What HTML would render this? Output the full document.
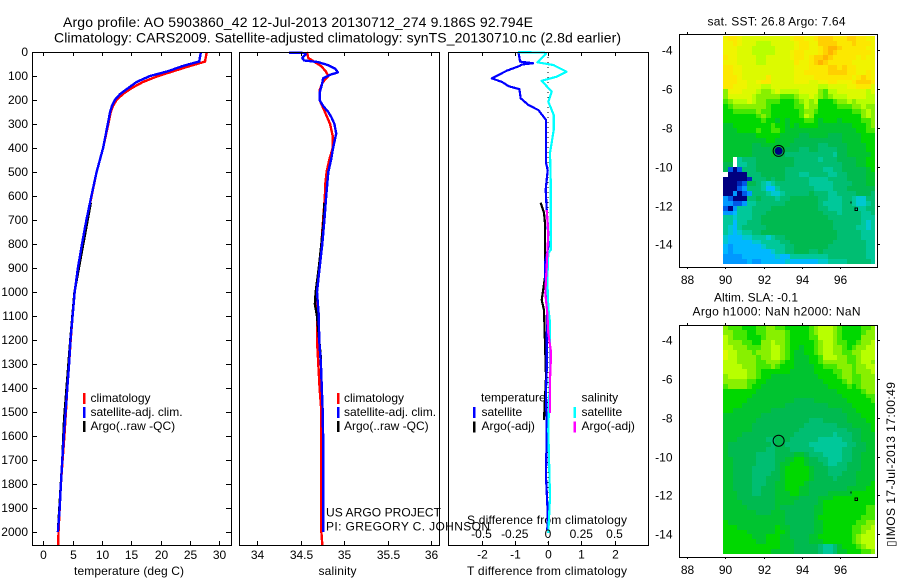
<!DOCTYPE html>
<html>
<head>
<meta charset="utf-8">
<title>Argo profile</title>
<style>
html,body{margin:0;padding:0;background:#fff;width:900px;height:580px;overflow:hidden}
svg{display:block}
text{font-family:"Liberation Sans",sans-serif;font-size:12px;fill:#000}
.ttl{font-size:14px}
</style>
</head>
<body>
<svg id="chart" xmlns="http://www.w3.org/2000/svg" width="900" height="580" viewBox="0 0 900 580">
<text class="ttl" x="63" y="27" textLength="470">Argo profile: AO 5903860_42 12-Jul-2013 20130712_274 9.186S 92.794E</text>
<text class="ttl" x="54" y="42.5" textLength="567">Climatology: CARS2009. Satellite-adjusted climatology: synTS_20130710.nc (2.8d earlier)</text>
<text x="74" y="575" textLength="110">temperature (deg C)</text>
<text x="318.5" y="575" textLength="38">salinity</text>
<text x="467" y="575" textLength="160">T difference from climatology</text>
<text x="467" y="524" textLength="160">S difference from climatology</text>
<text x="707.5" y="25.5" textLength="138">sat. SST: 26.8 Argo: 7.64</text>
<text x="714" y="301.5" textLength="84">Altim. SLA: -0.1</text>
<text x="692.5" y="315.5" textLength="168">Argo h1000: NaN h2000: NaN</text>
<text transform="rotate(-90 895 547)" x="895" y="547" textLength="165">▯IMOS 17-Jul-2013 17:00:49</text>
<g id="marks"></g>
<text x="326" y="516.5" textLength="115">US ARGO PROJECT</text>
<text x="326" y="530.5" textLength="164">PI: GREGORY C. JOHNSON</text>
</svg>
<script>
// ---------- data ----------
const depthTicks=[0,100,200,300,400,500,600,700,800,900,1000,1100,1200,1300,1400,1500,1600,1700,1800,1900,2000];
const tempTicks=[0,5,10,15,20,25,30];
const salTicks=[34,34.5,35,35.5,36];
const salTickLabels=['34','34.5','35','35.5','36'];
const tdiffTicks=[-2,-1,0,1,2];
const sdiffTicks=[-0.5,-0.25,0,0.25,0.5];
const sdiffTickLabels=['-0.5','-0.25','0','0.25','0.5'];
const lonTicks=[88,90,92,94,96];
const latTicks=[-4,-6,-8,-10,-12,-14];

const tempClimDepth=[0,40,50,60,80,100,125,150,175,200,225,250,300,400,500,600,700,800,900,1000,1100,1200,1300,1400,1500,1600,1700,1800,1900,2000,2054];
const tempClim=[27.9,27.6,26.2,24.8,22.2,19.6,17,15.1,13.6,12.5,11.9,11.5,11.1,10.2,9.1,8.25,7.4,6.65,5.97,5.35,5.0,4.67,4.4,4.1,3.85,3.6,3.3,3.0,2.8,2.6,2.56];
const tempSatDepth=[0,40,50,60,80,100,125,150,175,200,225,250,300,400,500,600,700,800,900,1000,1100,1200,1300,1400,1500,1600,1700,1800,1900,2000];
const tempSat=[26.9,26.6,25,23.6,21.3,18.2,15.9,14.5,13.1,12.2,11.7,11.4,11,10.2,9.1,8.2,7.35,6.6,5.9,5.35,5.0,4.65,4.4,4.1,3.8,3.5,3.25,3.0,2.8,2.5];
const tempArgoDepth=[628,1000,1200,1530,1700,2000];
const tempArgo=[8.1,5.32,4.6,3.55,3.25,2.5];

const salClimDepth=[0,10,25,50,60,80,100,115,130,160,200,225,250,300,350,400,450,500,550,600,700,800,900,1000,1100,1200,1300,1400,1500,2000,2054];
const salClim=[34.57,34.58,34.59,34.7,34.74,34.79,34.82,34.78,34.75,34.72,34.72,34.75,34.78,34.84,34.87,34.87,34.83,34.8,34.785,34.78,34.76,34.74,34.71,34.69,34.69,34.69,34.705,34.72,34.74,34.74,34.75];
const salSatDepth=[3,4,10,25,35,42,55,70,85,95,110,130,170,200,225,250,275,300,340,400,450,500,600,700,800,900,1000,1100,1200,1300,1400,1500,1600,2000];
const salSat=[34.37,34.55,34.56,34.52,34.54,34.7,34.82,34.9,34.93,34.84,34.76,34.75,34.72,34.72,34.76,34.82,34.86,34.89,34.91,34.875,34.85,34.82,34.795,34.775,34.75,34.72,34.69,34.71,34.715,34.735,34.745,34.755,34.76,34.76];
const salArgoDepth=[630,700,800,900,1000,1050,1100,1200,1280];
const salArgo=[34.775,34.765,34.74,34.71,34.675,34.665,34.69,34.715,34.735];

const dTsatDepth=[0,40,44,47,52,58,78,110,124,142,155,193,221,242,283,463,492,561,575,658,713,812,879,938,992,1046,1188,1325,1408,1575,1770,1921,1992];
const dTsat=[-0.89,-0.84,-0.6,-0.45,-0.79,-0.85,-1.24,-1.69,-1.39,-1.19,-0.86,-0.82,-0.59,-0.29,-0.06,-0.06,-0.01,-0.06,-0.07,-0.04,-0.01,0.01,-0.09,-0.09,-0.04,-0.01,-0.04,-0.04,-0.06,-0.04,-0.06,-0.01,-0.02];
const dTargoDepth=[628,671,713,938,1033,1075,1213,1354,1533];
const dTargo=[-0.22,-0.12,-0.09,-0.09,-0.19,-0.12,-0.09,-0.06,-0.12];
const dSsatDepth=[1,2,8,43,54,82,103,120,165,207,262,325,421,533,728,825,838,950,1063,1129,1338,1575,1854,2004];
const dSsat=[-0.226,-0.03,-0.015,-0.08,0.04,0.14,0.065,-0.047,0.028,0.002,0.043,0.043,0.015,0.02,0.02,0.02,0.002,-0.005,0.002,0.015,0.015,0.002,0.015,0.002];
const dSargoDepth=[658,754,896,1004,1088,1171,1242,1296,1367,1504];
const dSargo=[-0.01,0.002,-0.01,-0.02,-0.005,0.002,0.02,0.02,0.015,0.015];

// heatmap cells: 32 columns x 47 rows, one level character per cell ('.' = no data)
const sstGrid=[
"pqqpoo ooooo ooopq qppq rrrq qqrr qqpp",
"ppqpoo onnno oooop qqpp rrrr qqqr qqqp",
"pppooo nnnnn oooop qqpp qrss rqqq qqpp",
"pppooo nnnnn ooopq qppp qrsr qqqq qqqp",
"qppooo onnoo ooopq qpqr rsrq qqqq pqpp",
"pppooo onnoo ooooq ppqr srqq qqqp pppp",
"qqppoo ooooo oooop ppqq qqrr qrqq pppp",
"qqppoo ooooo oooop pqqq qqrr rrqq ppqp",
"qqqpoo oooqo oooop pppq qqqq qqqp qrqp",
"qqqppo opqqo oooop ppoo ppqq pppq rrrq",
"qqpppo oonno ooooo oooo nnoo oopp qqqo",
"mpppoo onmmn onnnn oooo mlnn oooo oono",
"mooooo nmmmm mlllm nnon mlmn nnoo oonn",
"lmnnno nmmll lkkkl mnmn kkkl mmnm nnnn",
"klmmmm mmmlk kkkkl lnmm kkkk lllm mnmm",
"kkllll lmllk kkkkk lmml kkkk kkkl lmnm",
"kkkkkk klmlk kkkkk lnmk kkkk kkkk kmnm",
"kkkkkk kklkk jkjkk kllk jkkk jkkk kllm",
"jjkkkk kkkkl kkjkj kkkk jjjj jjjk kklm",
"jjjkkk klkkl lkjjj jjjj jjjj jjjj kkll",
"jjjjjj jkkkk kjjjj iijj jjii ijjj jkkk",
"jjjjjj jjjkk jjjji iiii iiii ijjj jkkk",
"jjjjjj iijjj jjjii iiii hhii iijj jjkk",
"jjjjjj iiiij jjiii hhii hhhh iijj jjkk",
"jjjjjj iiiij iihhh hhhh hhhg iijj jjjk",
"jj.ghh hiiii iiiih hhhh ghhh iiii jjkk",
"ii.ggh hiiii iiiih hhhh hhhh hiii jjkk",
"icachh hiiii iihhh hhhh hggh hiii iijk",
".aaaah hhiii iihhh gghh hhgg hhii iijj",
"aaaaab hhhih iihhh hhgg gghh hhii iijj",
"aaabci ihgfg hhhhh hhgg gggh hhhi iijj",
"aaacdh hhgee ghhhh hhhg gggh hhii iiii",
"aadacd hhhgf fghhh hhih hhgg hhhh iiih",
"dcaaah hihhh ghhii iiii hhgg ghhg ffhh",
"ddccdg ghhhh hhiii iiii hggg ghhg ffgh",
"cadggg hhhhi iiiii iiii hhgg ghhh gghh",
"ddeggg hhhii iiiii iiii ihhh ghhh hggh",
"ggfggg hhiii iiiii iiii iihh hhhh hggg",
"ggeggh hhiii iiiii iiii iiih hhhh hgfg",
"gfeghh hhhii iiiii iiii iiih hhhh ggfg",
"gfefgg hhiii iiiii iiii iiii hhhh hggg",
"feeeff gggfg hhiii iiii iiii hhhh hggg",
"feeeee ffggg ghhii iiii iiih hhhh hhgg",
"edeeee eefgg gghhi iiii iihh hhhh hhgg",
"edeeee eeeef gghhi iihh ihhh hhhh hhgg",
"ddddee eeeee feegg gggg gghh hhhh hhgg",
"ddddde ddeee eefee eeee ffgg gghh hhhg"
];
const slaGrid=[
"mlllkk kllmm llkkk kklm nnnm lkkk kllm",
"mmlllk kllmm mmlkk kklm nnnm lkkk klmm",
"nmlllk kklmm mmlkk kkll nnnm lkkk kmmm",
"nmmmll kkmmn mmlkk kkkl mnnm llkk lmmn",
"nnmmml llmmn nmlkk jkkl mnnm mlkl mmnn",
"onnmmm lmmmn nmlkj jkkl mnnm mllm mnnn",
"onnmmm mlmmn nmlkj jjkk lnnn mmll mnnn",
"nnnmmm mllmm mlkkj jjkk lmmm mmll mnnm",
"nnnnmm mlllm lkkkj jjjk klll mmml mmnn",
"nnnnnm mlkkk kkkjj jjjk kkkl lmml mmmn",
"mnnnnm mlkkj jjjjj jjjj kkkk lmml lmmm",
"mmmmml lkkjj jjjjj jjjj jkkk klml lmmm",
"lmmmml kkjjj jjjjj jjjj jjkk kklk lmmm",
"kkkkkk kjjjj jjjjj jjjj jjjj kkkk klmm",
"kkkkkk jjjjj jjjjj jjjj jjjj jkkk kkll",
"kkkkkj jjjjj jjjji iiij jjjj jjkk kkkl",
"kkkkjj jjjjj jjiii iiii iijj jjjk kkkk",
"kkjjjj jjjji iiiii iiii iiii ijjj kkkk",
"jjjjjj jjiii iiiii iiii iiii iijj jkkk",
"jjjjjj jiiii iiiii iihh hiii iijj jjkk",
"jjjjjj iiiii iiiii ihhh hhhh iiij jjjk",
"jjjjjj iiiii iiiii hhhh hhhh hhii ijjk",
"jjjjii iiiii iiiih hhhh hhhg hhhi ijjj",
"jjjiii iiihh iiihh hhhh gggg ghhi ijjj",
"jiiiii iiiih iihhh hhgg gggg gghh iijj",
"jiiiii iiihh iiihh hhhg gggg ghhi iijj",
"jiiiii ihhhh iiiij jihh hggg ghhi ijjj",
"jjiiii ihhhh iijjk kjii hhgg ghhi ijjj",
"jjiiii ihhhh ijjkk kjii ihgg hhii ijjj",
"jjiiii hhhhh ijkkk kkji iihh hhii ijjj",
"jjiiii hhhhi ijkkk kkji iihh hiii jjjj",
"jjiiii hhhii ijkkk kkji iiih iiii jjjj",
"jjiiii hhhii jjkkk kjii iiii iiii jjjk",
"jjiiii hhiii jjkkk jjii iiii iijj jjkk",
"jjjiii hhiii jjjkk jjii iijj jjjk kkkk",
"jjjiii iiiii jjjjj iiii jjjk kkkk kkkk",
"jjjjii iiiii jjjji iiii jkkk kkkk kkkk",
"jjjjji iiiii jiiii iiij jkkk kkkk kkll",
"jjjjjj jiiij jjiii iiij jkkk kkkk kkll",
"jjjjjj jjjjj jjiii iiij kkkk kkkk klll",
"kjjjjj jjjjj jjiii iiij jkkk kkkk llmm",
"kkkjjj jjjjj kjjii iiij jkkk kkkl lmmn",
"kkkkkj jjjjj kkjii iiij jkkk kkkl lmnn",
"kkkkkk jjjkk kjjii iijj kkkk kkkl mnnn",
"kkkkkk kjjkk kjjji iijj jkkk kkkl mnnn",
"kkkkkk kkkkk kjjji iiii hggh jkkk lmnn",
"kkkkkk kkkkj jjjji iiii hggh jjkk kllm"
];
const argoLon=[92.794];
const argoLat=[-9.186];
const nearbyLon=[96.6,96.87];
const nearbyLat=[-11.82,-12.18];

// ---------- scales ----------
const NS='http://www.w3.org/2000/svg';
const marks=document.getElementById('marks');
const yD=d=>52+d*0.24;
const xTemp=v=>43.3+v*5.86;
const xSal=v=>257+(v-34)*87;
const xDT=v=>548+v*33.25;
const xDS=v=>548+v*133;
const xLon=v=>687.3+(v-88)*19.05;
const yLat1=v=>50.3+(-4-v)*19.4;
const yLat2=v=>340+(-4-v)*19.43;
const levelColor={a:'#000080',b:'#0028b8',c:'#0058e8',d:'#0098ff',e:'#00b8ff',f:'#00c8d0',g:'#00c89a',h:'#00be72',i:'#00ba50',j:'#00c430',k:'#00d800',l:'#44e800',m:'#88f000',n:'#b8ff00',o:'#dcfa00',p:'#f0f400',q:'#fce800',r:'#ffd000',s:'#ffb400'};

function mk(tag,attrs,parent){
  const el=document.createElementNS(NS,tag);
  for(const k in attrs)el.setAttribute(k,attrs[k]);
  (parent||marks).appendChild(el);
  return el;
}
function seg(x1,y1,x2,y2,name){
  const el=mk('line',{x1:x1,y1:y1,x2:x2,y2:y2,stroke:'#000','stroke-width':1,'shape-rendering':'crispEdges'});
  
  
  return el;
}
function label(x,y,str,anchor,name){
  const el=mk('text',{x:x,y:y,'text-anchor':anchor});
  el.textContent=str;
  
  
  return el;
}
function series(depths,vals,xf,color,w,name){
  const pts=depths.map((d,i)=>xf(vals[i]).toFixed(1)+','+yD(d).toFixed(1)).join(' ');
  const el=mk('polyline',{points:pts,fill:'none',stroke:color,'stroke-width':w,'stroke-linejoin':'round','shape-rendering':'crispEdges'});
  
  
  return el;
}
function frame(x,y,w,h,name){
  const el=mk('rect',{x:x+.5,y:y+.5,width:w,height:h,fill:'none',stroke:'#000','stroke-width':1,'shape-rendering':'crispEdges'});
  
  
  return el;
}
function legendKey(x,y,h,color,name){
  const el=mk('rect',{x:x,y:y,width:2.5,height:h,fill:color,'shape-rendering':'crispEdges'});
  
  
  return el;
}
function heatmap(grid,yLat,name){
  grid.forEach((raw,r)=>{
    const row=raw.replace(/ /g,'');
    for(let c=0;c<row.length;c++){
      const ch=row[c];
      if(ch==='.')continue;
      const x0=Math.round(xLon(89.875+c*0.25));
      const x1=Math.round(xLon(89.875+(c+1)*0.25));
      const y0=Math.round(yLat(-3.26-r*0.25));
      const y1=Math.round(yLat(-3.26-(r+1)*0.25));
      const el=mk('rect',{x:x0,y:y0,width:x1-x0,height:y1-y0,fill:levelColor[ch],'shape-rendering':'crispEdges'});
      
      
    }
  });
}

// ---------- profile panels ----------
const top0=52,bot0=545;
const lineW=2.4;
// temperature panel
series(tempClimDepth,tempClim,xTemp,'#ff0000',lineW,'temperature-climatology-line');
series(tempArgoDepth,tempArgo,xTemp,'#000000',lineW,'temperature-argo-line');
series(tempSatDepth,tempSat,xTemp,'#0000ff',lineW,'temperature-satellite-line');
frame(32,52,199,493,'temperature-panel-frame');
depthTicks.forEach(d=>{
  const y=Math.round(yD(d))+.5;
  seg(32,y,37,y,'depth-tick-left');
  seg(226,y,231,y,'depth-tick-right');
  label(28,y+3.5,String(d),'end','depth-tick-label');
});
tempTicks.forEach(v=>{
  const x=Math.round(xTemp(v))+.5;
  seg(x,52,x,56,'temperature-tick-top');
  seg(x,541,x,545,'temperature-tick-bottom');
  label(x,559,String(v),'middle','temperature-tick-label');
});
// salinity panel
series(salClimDepth,salClim,xSal,'#ff0000',lineW,'salinity-climatology-line');
series(salArgoDepth,salArgo,xSal,'#000000',lineW,'salinity-argo-line');
series(salSatDepth,salSat,xSal,'#0000ff',lineW,'salinity-satellite-line');
frame(239,52,200,493,'salinity-panel-frame');
salTicks.forEach((v,i)=>{
  const x=Math.round(xSal(v))+.5;
  seg(x,52,x,56,'salinity-tick-top');
  seg(x,541,x,545,'salinity-tick-bottom');
  label(x,559,salTickLabels[i],'middle','salinity-tick-label');
});
// difference panel
const zero=mk('line',{x1:xDT(0),y1:top0,x2:xDT(0),y2:bot0,stroke:'#000','stroke-width':1,'stroke-dasharray':'1 4','shape-rendering':'crispEdges'});


series(dTargoDepth,dTargo,xDT,'#000000',2.2,'t-difference-argo-line');
series(dTsatDepth,dTsat,xDT,'#0000ff',2.2,'t-difference-satellite-line');
series(dSsatDepth,dSsat,xDS,'#00ffff',2.2,'s-difference-satellite-line');
series(dSargoDepth,dSargo,xDS,'#ff00ff',2.2,'s-difference-argo-line');
frame(448,52,200,493,'difference-panel-frame');
tdiffTicks.forEach(v=>{
  const x=Math.round(xDT(v))+.5;
  seg(x,52,x,56,'t-difference-tick-top');
  seg(x,541,x,545,'t-difference-tick-bottom');
  label(x,558.5,String(v),'middle','t-difference-tick-label');
});
sdiffTicks.forEach((v,i)=>{
  label(xDS(v),538,sdiffTickLabels[i],'middle','s-difference-tick-label');
});

// ---------- legends ----------
const legendRows=[402,416,430];
const legendNames=['climatology','satellite-adj. clim.','Argo(..raw -QC)'];
const legendColors=['#ff0000','#0000ff','#000000'];
[[83,90.5,'temperature'],[337,344,'salinity']].forEach(p=>{
  legendRows.forEach((y,i)=>{
    legendKey(p[0],y-9,11,legendColors[i],p[2]+'-legend-key');
    label(p[1],y,legendNames[i],'start',p[2]+'-legend-label');
  });
});
label(481,401.5,'temperature','start','difference-legend-temperature-heading');
label(481.5,416,'satellite','start','difference-legend-temperature-satellite');
label(481.5,430,'Argo(-adj)','start','difference-legend-temperature-argo');
label(581.5,401.5,'salinity','start','difference-legend-salinity-heading');
label(581.5,416,'satellite','start','difference-legend-salinity-satellite');
label(581.5,430,'Argo(-adj)','start','difference-legend-salinity-argo');
legendKey(473,407,11,'#0000ff','difference-legend-key-t-satellite');
legendKey(473,421.5,11,'#000000','difference-legend-key-t-argo');
legendKey(573.5,407,11,'#00ffff','difference-legend-key-s-satellite');
legendKey(573.5,421.5,11,'#ff00ff','difference-legend-key-s-argo');

// ---------- maps ----------
function mapPanel(grid,yLat,boxTop,boxH,labelY,name){
  heatmap(grid,yLat,name+'-cell');
  frame(679,boxTop,198,boxH,name+'-frame');
  lonTicks.forEach(v=>{
    const x=Math.round(xLon(v))+.5;
    seg(x,boxTop-2,x,boxTop,name+'-lon-tick-top');
    seg(x,boxTop+boxH,x,boxTop+boxH+2,name+'-lon-tick-bottom');
    label(x,labelY,String(v),'middle',name+'-lon-label');
  });
  latTicks.forEach(v=>{
    const y=Math.round(yLat(v))+.5;
    seg(877,y,880,y,name+'-lat-tick');
    label(672.5,y+4,String(v),'end',name+'-lat-label');
  });
}
mapPanel(sstGrid,yLat1,34,233,284,'sst-map');
mapPanel(slaGrid,yLat2,325,232,574,'sla-map');

argoLon.forEach((lon,i)=>{
  const outer=mk('circle',{cx:xLon(lon),cy:yLat1(argoLat[i]),r:5.5,fill:'none',stroke:'#000','stroke-width':1});
  
  
  const fill=mk('circle',{cx:xLon(lon),cy:yLat1(argoLat[i]),r:4,fill:'#000080'});
  
  
  const ring=mk('circle',{cx:xLon(lon),cy:yLat2(argoLat[i]),r:5.5,fill:'none',stroke:'#000','stroke-width':1});
  
  
});
[yLat1,yLat2].forEach(yLat=>{
  nearbyLon.forEach((lon,i)=>{
    const s=i===0?1:2.5;
    const el=mk('rect',{x:Math.round(xLon(lon))-s/2,y:Math.round(yLat(nearbyLat[i]))-s/2,width:s,height:s+(i===0?1:0),fill:i===0?'#000':'none',stroke:i===0?'none':'#000','stroke-width':1,'shape-rendering':'crispEdges'});
    
    
  });
});
</script>
</body>
</html>
